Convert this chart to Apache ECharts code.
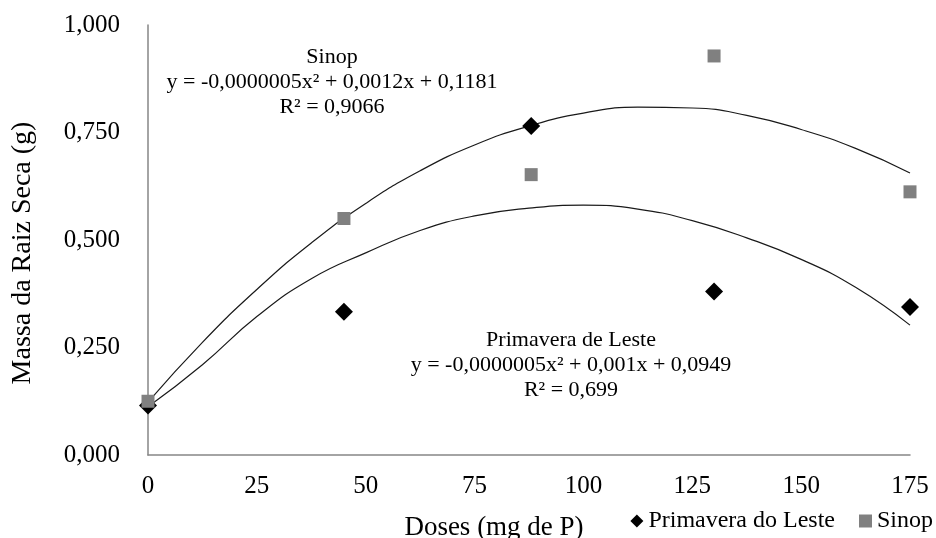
<!DOCTYPE html>
<html><head><meta charset="utf-8">
<script src="https://cdn.jsdelivr.net/npm/echarts@6/dist/echarts.min.js"></script>
<style>html,body{margin:0;padding:0;background:#fff}#c{width:936px;height:538px}</style>
</head><body><div id="c"></div>
<script>
const doses = [0, 45, 88, 130, 175];
const primavera = [0.115, 0.333, 0.765, 0.380, 0.344];
const sinop = [0.125, 0.550, 0.652, 0.928, 0.612];
const trendX = [0, 12.5, 25, 37.5, 50, 62.5, 75, 87.5, 100, 112.5, 125, 137.5, 150, 162.5, 175];
const trendPrimavera = [0.112, 0.21, 0.322, 0.41, 0.47, 0.522, 0.556, 0.574, 0.581, 0.572, 0.545, 0.505, 0.455, 0.39, 0.302];
const trendSinop = [0.123, 0.262, 0.385, 0.493, 0.585, 0.661, 0.721, 0.765, 0.795, 0.809, 0.807, 0.79, 0.757, 0.713, 0.656];
const xTicks = [0, 25, 50, 75, 100, 125, 150, 175];
const yTicks = [0, 0.25, 0.5, 0.75, 1];

const font = 'Liberation Serif';
const pair = (xs, ys) => xs.map((x, i) => [x, ys[i]]);
const chart = echarts.init(document.getElementById('c'));
chart.setOption({
  backgroundColor: '#fff',
  animation: false,
  textStyle: { fontFamily: font, color: '#000' },
  grid: { left: 148, right: 26, top: 25, bottom: 83, containLabel: false, outerBoundsMode: 'none' },
  xAxis: {
    type: 'value', min: 0, max: 175, interval: 25,
    axisLine: { lineStyle: { color: '#868686', width: 1.5 } },
    axisTick: { show: false },
    splitLine: { show: false },
    axisLabel: { fontFamily: font, fontSize: 25, color: '#000', margin: 19 },
    name: 'Doses (mg de P)', nameLocation: 'middle', nameGap: 59,
    nameTextStyle: { fontFamily: font, fontSize: 27, color: '#000', padding: [0, 70, 0, 0] }
  },
  yAxis: {
    type: 'value', min: 0, max: 1, interval: 0.25,
    axisLine: { show: true, lineStyle: { color: '#868686', width: 1.5 } },
    axisTick: { show: false },
    splitLine: { show: false },
    axisLabel: { fontFamily: font, fontSize: 25, color: '#000', margin: 28,
      formatter: v => v.toFixed(3).replace('.', ',') },
    name: 'Massa da Raiz Seca (g)', nameLocation: 'middle', nameGap: 111,
    nameTextStyle: { fontFamily: font, fontSize: 28, color: '#000', padding: [0, 26, 0, 0] }
  },
  legend: {
    right: -2, top: 504, width: 600, itemGap: 24, itemWidth: 13, itemHeight: 13,
    textStyle: { fontFamily: font, fontSize: 24, color: '#000' },
    data: [
      { name: 'Primavera do Leste', icon: 'diamond', itemStyle: { color: '#000', opacity: 1 } },
      { name: 'Sinop', icon: 'rect', itemStyle: { color: '#808080', opacity: 1 } }
    ]
  },
  series: [
    { type: 'line', name: 'trendS', data: pair(trendX, trendSinop), smooth: true, showSymbol: false,
      lineStyle: { color: '#1a1a1a', width: 1.2 }, silent: true, z: 1 },
    { type: 'line', name: 'trendP', data: pair(trendX, trendPrimavera), smooth: true, showSymbol: false,
      lineStyle: { color: '#1a1a1a', width: 1.2 }, silent: true, z: 1 },
    { type: 'scatter', name: 'Primavera do Leste', data: pair(doses, primavera),
      symbol: 'diamond', symbolSize: 18, itemStyle: { color: '#000', opacity: 1 }, z: 3 },
    { type: 'scatter', name: 'Sinop', data: pair(doses, sinop),
      symbol: 'rect', symbolSize: 13, itemStyle: { color: '#808080', opacity: 1 }, z: 4 }
  ],
  graphic: [
    { type: 'text', x: 332, y: 82, style: { text: 'Sinop\ny = -0,0000005x² + 0,0012x + 0,1181\nR² = 0,9066',
      font: '22px "Liberation Serif"', fill: '#000', align: 'center', verticalAlign: 'middle', lineHeight: 25 } , z: 10},
    { type: 'text', x: 571, y: 365, style: { text: 'Primavera de Leste\ny = -0,0000005x² + 0,001x + 0,0949\nR² = 0,699',
      font: '22px "Liberation Serif"', fill: '#000', align: 'center', verticalAlign: 'middle', lineHeight: 25 }, z: 10 }
  ]
});
</script></body></html>
